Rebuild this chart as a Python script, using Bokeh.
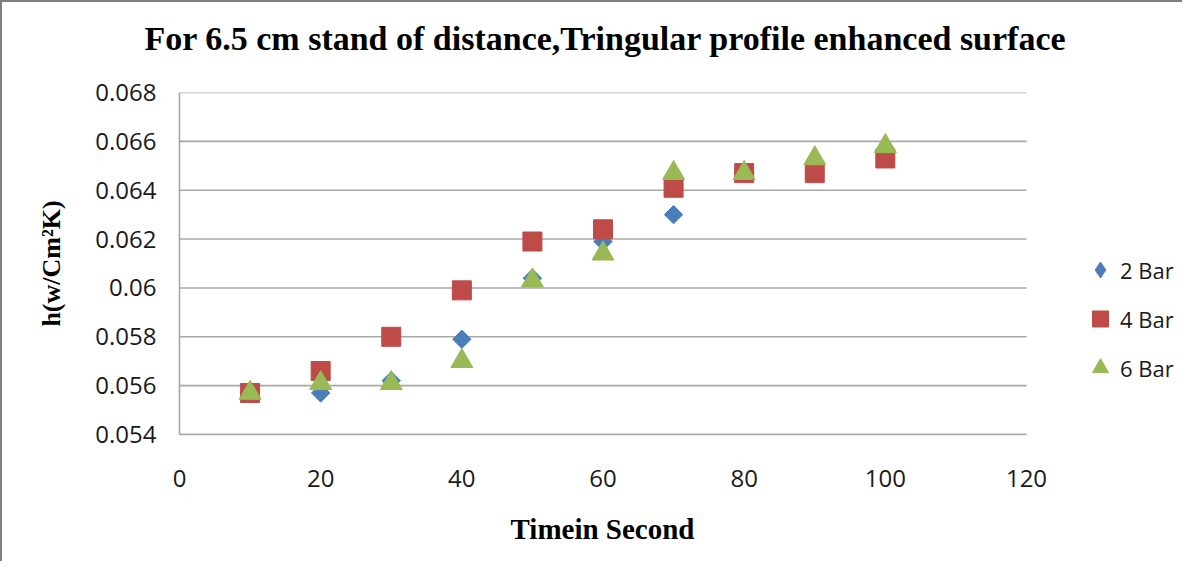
import numpy as np
from bokeh.plotting import figure
from bokeh.models import Range1d, FixedTicker, CustomJSTickFormatter, Legend, LegendItem, Title
from bokeh.embed import file_html
from bokeh.resources import INLINE

# ---- data ----
time_s = [10, 20, 30, 40, 50, 60, 70, 80, 90, 100]
bar2 = [0.0557, 0.0557, 0.0562, 0.0579, 0.0604, 0.0619, 0.0630, 0.0647, 0.0647, 0.0653]
bar4 = [0.0557, 0.0566, 0.0580, 0.0599, 0.0619, 0.0624, 0.0641, 0.0647, 0.0647, 0.0653]
bar6 = [0.0557, 0.0561, 0.0561, 0.0570, 0.0603, 0.0614, 0.0647, 0.0647, 0.0653, 0.0658]
series_names = ["2 Bar", "4 Bar", "6 Bar"]
series_colors = ["#4A7EBB", "#BE4B48", "#98B954"]
x_ticks = [0, 20, 40, 60, 80, 100, 120]
y_ticks = [0.054, 0.056, 0.058, 0.060, 0.062, 0.064, 0.066, 0.068]

title_text = "For 6.5 cm stand of distance,Tringular profile enhanced surface"
x_title = "Timein Second"
y_title = "h(w/Cm\u00b2K)"

# layout (pixels)
W, H = 1182, 561
left_b, right_b, top_b, bottom_b = 177, 158, 90, 129
axis_px = W - left_b - right_b          # pixels covering 0..120
x_end = x_ticks[-1] * (W - left_b) / axis_px   # frame extends under the legend

p = figure(width=W, height=H, output_backend="svg", toolbar_location=None,
           title=title_text,
           x_range=Range1d(x_ticks[0], x_end),
           y_range=Range1d(y_ticks[0], y_ticks[-1]),
           min_border_left=left_b, min_border_right=0,
           min_border_top=top_b, min_border_bottom=bottom_b)
p.styles = {"border-left": "2px solid #7f7f7f", "border-top": "2px solid #7f7f7f"}
p.outline_line_color = None
p.background_fill_color = "white"
p.border_fill_color = "white"

p.title.text_font = "Liberation Serif"
p.title.text_font_style = "bold"
p.title.text_font_size = "34px"
p.title.align = "left"
p.title.offset = -35
p.title.text_color = "black"
p.title.standoff = 20
# spacer between title and frame
p.add_layout(Title(text=" ", text_font_size="1px", standoff=23), "above")

grid_col = "#A8A8A8"
p.xgrid.visible = False
p.ygrid.visible = False
p.segment(x0=x_ticks[0], x1=x_ticks[-1], y0=y_ticks, y1=y_ticks,
          line_color=grid_col, line_width=1.6)

for ax in (p.xaxis[0], p.yaxis[0]):
    ax.axis_line_color = grid_col
    ax.axis_line_width = 1.6
    ax.major_tick_in = 0
    ax.major_tick_out = 0
    ax.minor_tick_line_color = None
    ax.major_tick_line_color = None
    ax.major_label_text_font = "Open Sans"
    ax.major_label_text_font_size = "24px"
    ax.major_label_text_color = "#1a1a1a"
    ax.axis_label_text_font = "Liberation Serif"
    ax.axis_label_text_font_style = "bold"
    ax.axis_label_text_color = "black"

p.xaxis.bounds = (x_ticks[0], x_ticks[-1])
p.xaxis.ticker = FixedTicker(ticks=x_ticks)
p.yaxis.ticker = FixedTicker(ticks=y_ticks)
p.yaxis.formatter = CustomJSTickFormatter(code="return String(parseFloat(tick.toFixed(3)));")
p.xaxis.major_label_standoff = 35
p.yaxis.major_label_standoff = 23
p.yaxis.axis_label = y_title
p.yaxis.axis_label_text_font_size = "26px"
p.yaxis.axis_label_standoff = 26

# x axis title, positioned under the 0..120 axis (spacer first, then the title)
p.add_layout(Title(text=" ", text_font_size="1px", standoff=20), "below")
p.add_layout(Title(text=x_title, text_font="Liberation Serif", text_font_style="bold",
                   text_font_size="29px", text_color="black", align="left",
                   offset=331, vertical_align="top", standoff=0), "below")

r2 = p.scatter(time_s, bar2, marker="square", angle=np.pi / 4, size=13,
               fill_color=series_colors[0], line_color=series_colors[0])
r4 = p.scatter(time_s, bar4, marker="square", size=19,
               fill_color=series_colors[1], line_color=series_colors[1])
r6 = p.scatter(time_s, bar6, marker="triangle", size=22,
               fill_color=series_colors[2], line_color=series_colors[2])
# legend-only diamond (the legend ignores marker angle); hidden in the plot
r2_leg = p.scatter(time_s, bar2, marker="diamond", visible=False,
                   fill_color=series_colors[0], line_color=series_colors[0])

legend = Legend(items=[LegendItem(label=series_names[0], renderers=[r2_leg]),
                       LegendItem(label=series_names[1], renderers=[r4]),
                       LegendItem(label=series_names[2], renderers=[r6])],
                location=(901, 44))
legend.border_line_color = None
legend.background_fill_alpha = 0
legend.inactive_fill_alpha = 0
legend.padding = 0
legend.margin = 0
legend.glyph_width = 40
legend.glyph_height = 45
legend.label_height = 45
legend.spacing = 4
legend.label_standoff = 0
legend.label_text_font = "Open Sans"
legend.label_text_font_size = "22px"
legend.label_text_color = "#1a1a1a"
p.add_layout(legend, "center")

open("out.html", "w").write(file_html(p, INLINE))
